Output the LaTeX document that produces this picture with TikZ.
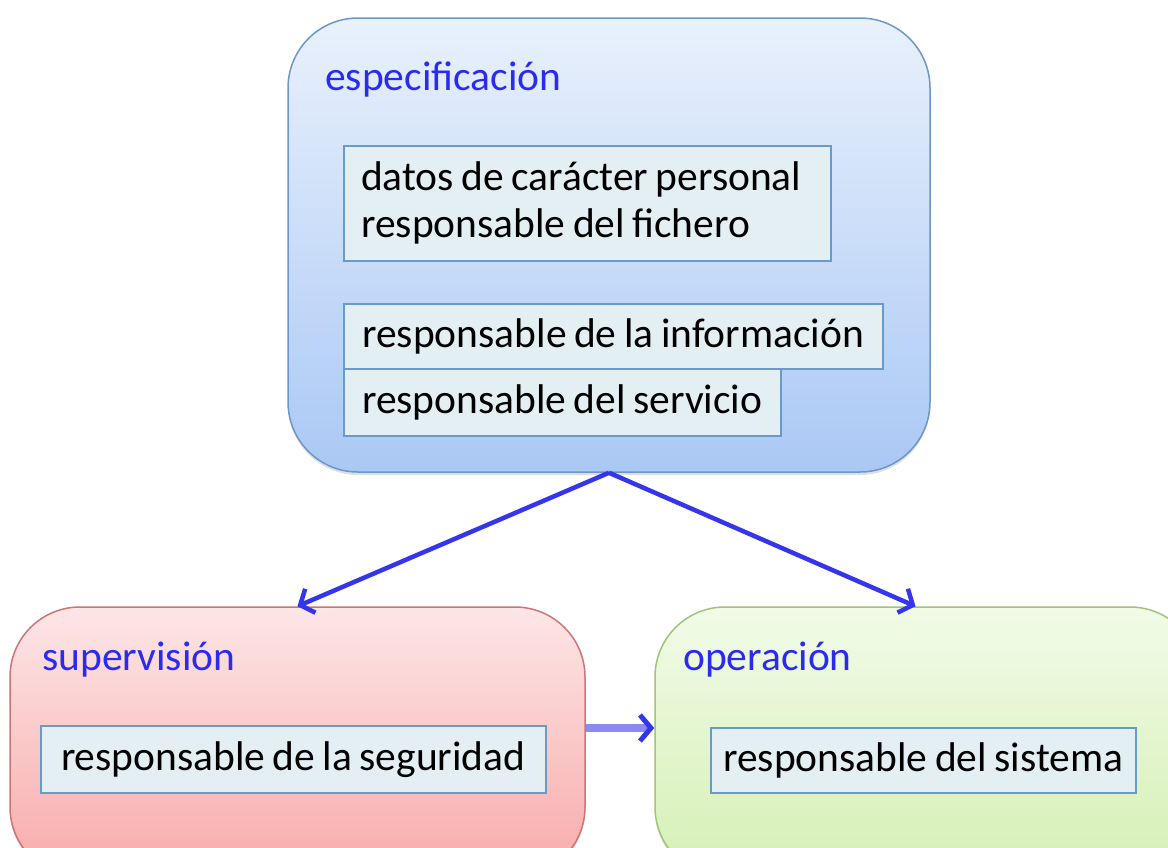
\documentclass[tikz,border=0pt]{standalone}
\usepackage{fontspec}
\setmainfont[WordSpace=0.8]{Carlito}
\usetikzlibrary{arrows.meta,shadows}

\definecolor{titleblue}{HTML}{2A2AF2}
\definecolor{arrowblue}{HTML}{3535EE}
\definecolor{shaftblue}{HTML}{8A8AF2}
\definecolor{innerfill}{HTML}{E4EFF4}
\definecolor{innerdraw}{HTML}{6A9AC8}

\begin{document}
\begin{tikzpicture}[
            x = 1pt, y = -1pt, % pixel grid of the reference
            font = \fontsize{41.5}{47}\selectfont,
            group/.style = {draw, line width=1.5pt, rounded corners=70pt,
                            drop shadow={opacity=0.25, shadow xshift=0pt, shadow yshift=-3pt}},
            role/.style = {draw=innerdraw, fill=innerfill, line width=1.5pt,
                           anchor=north west, inner xsep=10pt, align=left},
            heading/.style = {anchor=base west, text=titleblue, inner sep=0pt},
            flow/.style = {draw=arrowblue, line width=4.5pt,
                           -{Straight Barb[length=11pt, width=26pt]}}
            ]
            \clip (0,0) rectangle (1168,847);
            \useasboundingbox (0,0) rectangle (1168,847);

            % groups
            \node[group, draw={rgb,255:red,110;green,150;blue,200}, top color={rgb,255:red,233;green,241;blue,252},
                  bottom color={rgb,255:red,170;green,200;blue,245},
                  minimum width=642pt, minimum height=454pt] (spec) at (609,245) {};
            \node[group, draw={rgb,255:red,205;green,116;blue,116}, top color={rgb,255:red,253;green,230;blue,230},
                  bottom color={rgb,255:red,248;green,170;blue,170},
                  minimum width=575pt, minimum height=270pt] (sup) at (297.5,742) {};
            \node[group, draw={rgb,255:red,160;green,196;blue,120}, top color={rgb,255:red,241;green,251;blue,232},
                  bottom color={rgb,255:red,213;green,240;blue,180},
                  minimum width=545pt, minimum height=270pt] (op) at (927.5,742) {};

            % headings
            \node[heading] (spectitle) at (325,90) {especificación};
            \node[heading] (suptitle) at (42,670) {supervisión};
            \node[heading] (optitle) at (683,670) {operación};

            % roles
            \node[role, minimum width=487pt, minimum height=115pt] (datos) at (343,145)
                {datos de carácter personal\hspace*{12pt}\\responsable del fichero};
            \node[role, minimum width=539pt, minimum height=65pt] (info) at (343,303)
                {responsable de la información};
            \node[role, minimum width=437pt, minimum height=67pt] (servicio) at (343,368)
                {responsable del servicio};
            \node[role, minimum width=505pt, minimum height=67pt] (seguridad) at (40,725)
                {responsable de la seguridad};
            \node[role, minimum width=425pt, minimum height=65pt] (sistema) at (710,727)
                {responsable del sistema};

            % connectors
            \path (spec.south) edge[flow] (sup.north);
            \path (spec.south) edge[flow] ([xshift=-12pt]op.north);
            \draw[draw=shaftblue, line width=8pt,
                  -{Straight Barb[length=11pt, width=26pt, color=arrowblue, line width=5pt]}]
                  ([yshift=14pt]sup.east) -- ([yshift=14pt]op.west);
        \end{tikzpicture}
\end{document}
